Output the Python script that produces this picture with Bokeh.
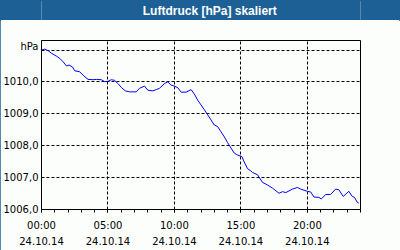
from bokeh.plotting import figure
from bokeh.models import Range1d, FixedTicker, Label, ColumnDataSource, LinearAxis
from bokeh.layouts import column
from bokeh.embed import file_html
from bokeh.resources import INLINE

# Data: hours since 24.10.14 00:00, pressure in hPa
hours = [0.00, 0.25, 0.50, 0.75, 1.12, 1.37, 1.63, 1.88, 2.08, 2.33, 2.50, 2.87,
         3.13, 3.50, 3.88, 4.13, 4.50, 4.75, 5.00, 5.25, 5.50, 5.75, 6.00, 6.30,
         6.62, 7.13, 7.37, 7.75, 8.00, 8.38, 8.63, 8.87, 9.25, 9.50, 9.75, 10.00,
         10.25, 10.50, 10.88, 11.25, 11.50, 11.75, 12.00, 12.25, 12.50, 12.75,
         13.00, 13.25, 13.50, 13.75, 14.00, 14.25, 14.50, 14.75, 15.08, 15.25,
         15.50, 15.75, 15.88, 16.25, 16.63, 17.00, 17.38, 17.87, 18.13, 18.38,
         18.88, 19.25, 19.50, 20.00, 20.25, 20.50, 20.87, 21.05, 21.38, 21.75,
         22.13, 22.37, 22.70, 23.12, 23.38, 23.55, 23.75, 23.87]
pressure = [1011.00, 1011.03, 1010.98, 1010.90, 1010.81, 1010.74, 1010.63, 1010.50,
            1010.53, 1010.47, 1010.35, 1010.32, 1010.21, 1010.08, 1010.07, 1010.08,
            1010.07, 1010.01, 1010.02, 1010.07, 1010.05, 1009.95, 1009.83, 1009.72,
            1009.69, 1009.69, 1009.80, 1009.87, 1009.74, 1009.72, 1009.76, 1009.80,
            1009.95, 1010.00, 1009.90, 1009.87, 1009.82, 1009.68, 1009.68, 1009.76,
            1009.62, 1009.43, 1009.28, 1009.13, 1008.97, 1008.81, 1008.65, 1008.60,
            1008.44, 1008.28, 1008.10, 1007.93, 1007.77, 1007.71, 1007.66, 1007.49,
            1007.28, 1007.21, 1007.16, 1007.09, 1006.85, 1006.77, 1006.67, 1006.51,
            1006.56, 1006.53, 1006.64, 1006.69, 1006.64, 1006.57, 1006.55, 1006.39,
            1006.38, 1006.33, 1006.47, 1006.47, 1006.64, 1006.62, 1006.41, 1006.57,
            1006.41, 1006.38, 1006.23, 1006.20]

x_ticks = [0, 5, 10, 15, 20]
x_time_labels = ["00:00", "05:00", "10:00", "15:00", "20:00"]
x_date_labels = ["24.10.14", "24.10.14", "24.10.14", "24.10.14", "24.10.14"]
x_minor = list(range(0, 25))
y_ticks = [1006, 1007, 1008, 1009, 1010, 1011.125]
y_tick_labels = ["1006,0", "1007,0", "1008,0", "1009,0", "1010,0", "hPa"]
y_grid = [1006, 1007, 1008, 1009, 1010, 1011]
title_text = "Luftdruck [hPa] skaliert"

BLUE = "#1d6096"
BG = "#fbfefb"
FONT = "DejaVu Sans"

# Header bar
header = figure(width=400, height=20, x_range=(0, 400), y_range=(0, 20),
                toolbar_location=None, output_backend="svg", min_border=0)
header.axis.visible = False
header.grid.visible = False
header.outline_line_color = None
header.background_fill_color = BLUE
header.border_fill_color = BLUE
header.add_layout(Label(x=211, y=10, text=title_text, text_color="white",
                        text_font="Liberation Sans", text_font_style="bold",
                        text_font_size="12px", text_align="center",
                        text_baseline="middle"))

# Main plot
p = figure(width=400, height=230, x_range=Range1d(0, 24), y_range=Range1d(1006, 1011.3),
           toolbar_location=None, output_backend="svg",
           min_border_left=40, min_border_right=40, min_border_top=20,
           min_border_bottom=41)
p.background_fill_color = BG
p.border_fill_color = BG
p.outline_line_color = "black"
p.outline_line_alpha = 1.0
p.outline_line_width = 1

src = ColumnDataSource(dict(h=hours, v=pressure))
p.line("h", "v", source=src, line_color="#0000ff", line_width=1)

p.xaxis.ticker = FixedTicker(ticks=x_ticks, minor_ticks=x_minor)
p.xaxis.major_label_overrides = dict(zip(x_ticks, x_time_labels))
p.yaxis.ticker = FixedTicker(ticks=y_ticks)
p.yaxis.major_label_overrides = dict(zip(y_ticks, y_tick_labels))

for ax in (p.xaxis, p.yaxis):
    ax.axis_line_color = "black"
    ax.major_label_text_font = FONT
    ax.major_label_text_font_size = "10px"
    ax.major_label_text_color = "black"
    ax.major_tick_in = 0
    ax.minor_tick_in = 0

p.xaxis.major_tick_out = 3
p.xaxis.minor_tick_out = 3
p.xaxis.major_tick_line_color = "black"
p.xaxis.minor_tick_line_color = "black"
p.xaxis.major_label_standoff = 7
p.yaxis.major_tick_out = 0
p.yaxis.minor_tick_out = 0
p.yaxis.major_tick_line_color = None
p.yaxis.minor_tick_line_color = None
p.yaxis.major_label_standoff = 3

date_axis = LinearAxis(ticker=FixedTicker(ticks=x_ticks),
                       major_label_overrides=dict(zip(x_ticks, x_date_labels)),
                       axis_line_color=None, major_tick_line_color=None,
                       minor_tick_line_color=None, major_tick_in=0, major_tick_out=0,
                       minor_tick_in=0, minor_tick_out=0, major_label_standoff=3,
                       major_label_text_font=FONT, major_label_text_font_size="10px",
                       major_label_text_color="black")
p.add_layout(date_axis, "below")

p.xgrid.ticker = FixedTicker(ticks=x_ticks)
p.ygrid.ticker = FixedTicker(ticks=y_grid)
for g in (p.xgrid, p.ygrid):
    g.grid_line_color = "black"
    g.grid_line_dash = "3 2"
    g.grid_line_width = 1

layout = column(header, p, spacing=0,
                styles={"outline": "1px solid " + BLUE, "outline-offset": "-1px"})

open("out.html", "w").write(file_html(layout, INLINE))
